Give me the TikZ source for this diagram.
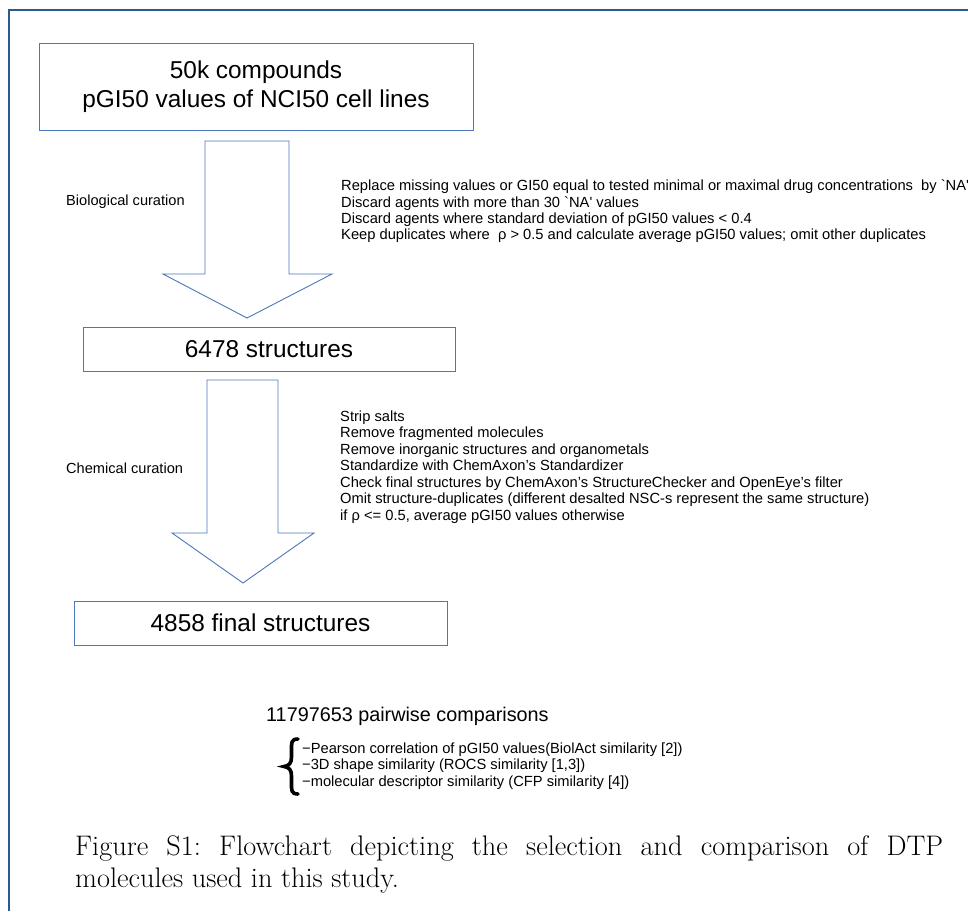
\documentclass[tikz,border=0pt]{standalone}
\usepackage{fontspec}
\setsansfont{Liberation Sans}[Ligatures=TeXOff]
\definecolor{boxblue}{HTML}{4A78B8}
\definecolor{frameblue}{HTML}{2B5B8C}
\begin{document}
\begin{tikzpicture}[x=1pt,y=-1pt,
  box/.style={draw=boxblue, line width=0.9pt, fill=white, inner sep=0pt, align=center,
    font=\sffamily\fontsize{24.4}{29}\selectfont},
  blockarrow/.style={draw=boxblue, line width=0.9pt, line join=miter},
  note/.style={font=\sffamily\fontsize{14.7}{16.4}\selectfont, align=left, inner sep=0pt, anchor=base west},
  curlabel/.style={font=\sffamily\fontsize{14.6}{17}\selectfont, inner sep=0pt, anchor=west},
  captext/.style={font=\fontsize{28.3}{32}\selectfont\frenchspacing, text width=868pt, align=justify, inner sep=0pt, anchor=base west}]
\useasboundingbox (0,0) rectangle (968,911);
\clip (0,0) rectangle (968,911);
\fill[white] (0,0) rectangle (968,911);
% outer frame
\draw[frameblue, line width=1.8pt] (9,911) -- (9,10) -- (968,10);

% boxes
\node[box, minimum width=434pt, minimum height=87pt] (b1) at (256,86.5) {50k compounds\\pGI50 values of NCI50 cell lines};
\node[box, minimum width=372pt, minimum height=44pt] (b2) at (269,349) {6478 structures};
\node[box, minimum width=373pt, minimum height=44pt] (b3) at (260.5,623) {4858 final structures};

% block arrows
\draw[blockarrow] (205,141) -- (289,141) -- (289,274) -- (332,274) -- (247,318) -- (163,274) -- (205,274) -- cycle;
\draw[blockarrow] (207,380) -- (278,380) -- (278,533) -- (314,533) -- (243,583) -- (172,533) -- (207,533) -- cycle;

% labels
\node[curlabel] (l1) at (66,202) {Biological curation};
\node[curlabel] (l2) at (66,468) {Chemical curation};

% (base anchor = baseline of the last line)
\node[note] (n1) at (341,239.9) {Replace missing values or GI50 equal to tested minimal or maximal drug concentrations\ \ by `NA'\\
Discard agents with more than 30 `NA' values\\
Discard agents where standard deviation of pGI50 values < 0.4\\
Keep duplicates where\ \ ρ > 0.5 and calculate average pGI50 values; omit other duplicates};

\node[note, font=\sffamily\fontsize{14.7}{16.5}\selectfont] (n2) at (340,520) {Strip salts\\
Remove fragmented molecules\\
Remove inorganic structures and organometals\\
Standardize with ChemAxon’s Standardizer\\
Check final structures by ChemAxon’s StructureChecker and OpenEye’s filter\\
Omit structure-duplicates (different desalted NSC-s represent the same structure)\\
if ρ <= 0.5, average pGI50 values otherwise};

\node[font=\sffamily\fontsize{19.8}{24}\selectfont, inner sep=0pt, anchor=base west] (pc) at (266,721) {11797653 pairwise comparisons};

% brace
\draw[line width=3.6pt, line cap=round] (298,739) .. controls (291,739) and (291.5,743) .. (291.5,750) -- (291.5,757)
  .. controls (291.5,763) and (289,766) .. (284,766.5)
  .. controls (289,767) and (291.5,770) .. (291.5,776) -- (291.5,783)
  .. controls (291.5,790) and (291,794) .. (298,794);

\node[note, font=\sffamily\fontsize{14.7}{16.5}\selectfont] (lst) at (302,786) {−Pearson correlation of pGI50 values(BiolAct similarity [2])\\
−3D shape similarity (ROCS similarity [1,3])\\
−molecular descriptor similarity (CFP similarity [4])};

\node[captext] (caption) at (75,855) {Figure S1: Flowchart depicting the selection and comparison of DTP\linebreak molecules used in this study.};
\end{tikzpicture}
\end{document}
